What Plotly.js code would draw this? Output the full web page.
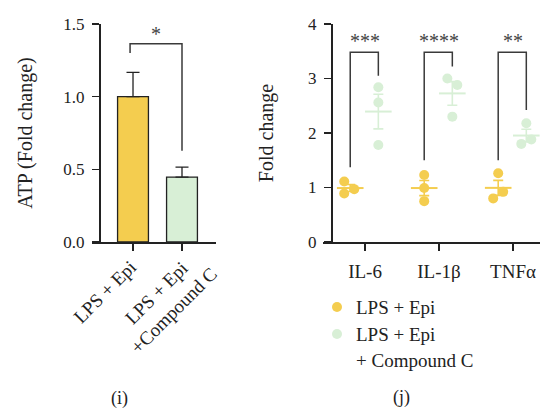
<!DOCTYPE html>
<html>
<head>
<meta charset="utf-8">
<script src="https://cdn.plot.ly/plotly-3.0.1.min.js"></script>
<style>html,body{margin:0;padding:0;background:#fff;}#chart{width:541px;height:408px;}</style>
</head>
<body>
<div id="chart"></div>
<script>
// ---------- data: panel (i) ----------
const atpGroups = ['LPS + Epi', 'LPS + Epi<br>+Compound C'];
const atpMean = [1.0, 0.447];
const atpErr = [0.167, 0.068];
const atpSig = '*';
const atpBracketTop = 1.364;
const atpBracketLegs = [1.30, 0.628];

// ---------- data: panel (j) ----------
const cytokines = ['IL-6', 'IL-1β', 'TNFα'];
const seriesNames = ['LPS + Epi', 'LPS + Epi', '+ Compound C'];
const epiVals = [[1.11, 0.89, 0.97], [1.23, 0.99, 0.75], [1.26, 0.92, 0.80]];
const epiCCVals = [[2.84, 2.56, 1.78], [3.00, 2.88, 2.30], [2.18, 1.88, 1.80]];
const sigLabels = ['***', '****', '**'];
const bracketTop = [3.48, 3.48, 3.48];
const bracketLeftLeg = [1.37, 1.50, 1.50];
const bracketRightLeg = [3.05, 3.22, 2.42];

// ---------- style ----------
const YELLOW = '#F4CD4F';
const GREEN = '#D8EFD6';
const INK = '#222222';
const FONT = 'Liberation Serif, serif';
const W = 541, H = 408;
const px = v => v / W, py = v => 1 - v / H;
const catPx = 74;                       // pixel spacing between cytokine categories
const groupOff = [-0.2, 0.18];          // dodge offsets for the two series
const jitterPx = [                      // horizontal jitter of replicate dots (px)
  [[-6, -6, 4], [0, 0, 0], [0, 5, -5]],
  [[0, 0, 0], [-5, 5, 0], [0, 5, -5]]
];

function mean(a) { return a.reduce((s, v) => s + v, 0) / a.length; }
function sem(a) {
  const m = mean(a);
  const sd = Math.sqrt(a.reduce((s, v) => s + (v - m) * (v - m), 0) / (a.length - 1));
  return sd / Math.sqrt(a.length);
}

const traces = [];

// panel (i) bars
traces.push({
  type: 'bar', x: [0, 1], y: atpMean, xaxis: 'x', yaxis: 'y', width: 0.63,
  marker: { color: [YELLOW, GREEN], line: { color: INK, width: 1.3 } },
  error_y: { type: 'data', array: atpErr, arrayminus: [0, 0], color: INK, thickness: 1.3, width: 6.5 },
  showlegend: false, hoverinfo: 'skip'
});

// panel (j) means + SEM and replicate dots
const sets = [epiVals, epiCCVals];
const colors = [YELLOW, GREEN];
sets.forEach((set, s) => {
  const mx = [], my = [], me = [];
  const dx = [], dy = [];
  set.forEach((vals, c) => {
    const xc = c + groupOff[s];
    mx.push(xc); my.push(mean(vals)); me.push(sem(vals));
    vals.forEach((v, k) => { dx.push(xc + jitterPx[s][c][k] / catPx); dy.push(v); });
  });
  traces.push({
    type: 'scatter', mode: 'markers', x: mx, y: my, xaxis: 'x2', yaxis: 'y2',
    marker: { symbol: 'line-ew-open', size: 19, color: colors[s], line: { color: colors[s], width: 2 } },
    error_y: { type: 'data', array: me, color: colors[s], thickness: 1.6, width: 5 },
    showlegend: false, hoverinfo: 'skip'
  });
  traces.push({
    type: 'scatter', mode: 'markers', x: dx, y: dy, xaxis: 'x2', yaxis: 'y2',
    name: s === 0 ? seriesNames[0] : seriesNames[1] + ' ' + seriesNames[2],
    marker: { size: 10, color: colors[s] },
    showlegend: false
  });
});

// brackets
const shapes = [];
const annotations = [];
const bLine = { color: '#3a3a3a', width: 1.5 };
{
  const x0 = -0.06, x1 = 1;
  shapes.push({ type: 'path', xref: 'x', yref: 'y', line: bLine,
    path: `M${x0},${atpBracketLegs[0]} L${x0},${atpBracketTop} L${x1},${atpBracketTop} L${x1},${atpBracketLegs[1]}` });
  annotations.push({ xref: 'x', yref: 'y', x: (x0 + x1) / 2, y: atpBracketTop, text: atpSig,
    showarrow: false, yanchor: 'bottom', yshift: -3, font: { family: FONT, size: 20, color: '#444' } });
}
cytokines.forEach((c, i) => {
  const x0 = i + groupOff[0], x1 = i + groupOff[1];
  shapes.push({ type: 'path', xref: 'x2', yref: 'y2', line: bLine,
    path: `M${x0},${bracketLeftLeg[i]} L${x0},${bracketTop[i]} L${x1},${bracketTop[i]} L${x1},${bracketRightLeg[i]}` });
  annotations.push({ xref: 'x2', yref: 'y2', x: i, y: bracketTop[i], text: sigLabels[i],
    showarrow: false, yanchor: 'bottom', yshift: -2, font: { family: FONT, size: 20, color: '#444' } });
});

// rotated, centre-aligned category labels for panel (i)
const rotShift = [[-29, -43], [-17, -53]];
atpGroups.forEach((g, i) => {
  annotations.push({ xref: 'x', yref: 'paper', x: i, y: py(249), text: g, showarrow: false,
    textangle: -45, align: 'center', xanchor: 'center', yanchor: 'middle',
    xshift: rotShift[i][0], yshift: rotShift[i][1],
    font: { family: FONT, size: 19, color: INK } });
});

// legend for panel (j)
const legY = [307, 334, 360];
[0, 1].forEach(s => {
  shapes.push({ type: 'circle', xref: 'paper', yref: 'paper', line: { width: 0 }, fillcolor: colors[s],
    x0: px(332), x1: px(342), y0: py(legY[s] - 5), y1: py(legY[s] + 5) });
});
seriesNames.forEach((t, k) => {
  annotations.push({ xref: 'paper', yref: 'paper', x: px(354), y: py(legY[k]), text: t, showarrow: false,
    xanchor: 'left', yanchor: 'middle', font: { family: FONT, size: 19, color: INK } });
});

// panel labels
annotations.push({ xref: 'paper', yref: 'paper', x: px(119), y: py(398), text: '(i)', showarrow: false,
  xanchor: 'center', yanchor: 'middle', font: { family: FONT, size: 18, color: INK } });
annotations.push({ xref: 'paper', yref: 'paper', x: px(401), y: py(397), text: '(j)', showarrow: false,
  xanchor: 'center', yanchor: 'middle', font: { family: FONT, size: 18, color: INK } });

const axisCommon = {
  showline: true, linecolor: INK, linewidth: 1.5, ticks: 'outside', ticklen: 7, tickwidth: 1.5,
  tickcolor: INK, showgrid: false, zeroline: false, fixedrange: true,
  tickfont: { family: FONT, size: 17, color: INK }
};

const layout = {
  width: W, height: H, margin: { l: 0, r: 0, t: 0, b: 0 },
  paper_bgcolor: '#fff', plot_bgcolor: 'rgba(0,0,0,0)',
  font: { family: FONT, color: INK },
  xaxis: Object.assign({}, axisCommon, {
    domain: [px(92), px(216)], range: [-0.837, 1.694], anchor: 'y',
    tickvals: [0, 1], ticktext: ['', ''], showticklabels: false
  }),
  yaxis: Object.assign({}, axisCommon, {
    domain: [py(242), py(24)], range: [0, 1.5], anchor: 'free', position: px(99),
    tickvals: [0, 0.5, 1, 1.5], tickformat: '.1f', ticklabelstandoff: 4,
    title: { text: 'ATP (Fold change)', standoff: 24, font: { family: FONT, size: 20, color: INK } }
  }),
  xaxis2: Object.assign({}, axisCommon, {
    domain: [px(323), px(540)], range: [-0.568, 2.365], anchor: 'y2',
    tickvals: [0, 1, 2], ticktext: cytokines, ticklabelstandoff: 5,
    tickfont: { family: FONT, size: 19, color: INK }
  }),
  yaxis2: Object.assign({}, axisCommon, {
    domain: [py(242), py(24)], range: [0, 4], anchor: 'free', position: px(331),
    tickvals: [0, 1, 2, 3, 4], ticklabelstandoff: 4,
    title: { text: 'Fold change', standoff: 27, font: { family: FONT, size: 20, color: INK } }
  }),
  showlegend: false,
  shapes: shapes,
  annotations: annotations
};

Plotly.newPlot('chart', traces, layout, { displayModeBar: false, staticPlot: true });
</script>
</body>
</html>
